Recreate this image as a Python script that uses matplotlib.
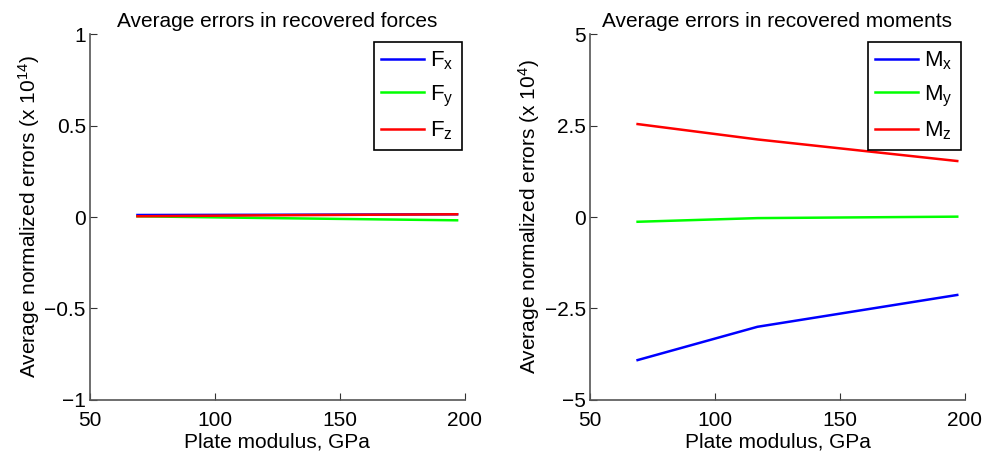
'''
Average errors in recovered forces / moments vs plate modulus
'''

import numpy as np
import matplotlib.pyplot as plt

plt.rcParams['font.family'] = ['Liberation Sans', 'DejaVu Sans']
plt.rcParams['mathtext.fontset'] = 'custom'
plt.rcParams['mathtext.rm'] = 'Liberation Sans'
plt.rcParams['mathtext.it'] = 'Liberation Sans'

# ═══ Data ═════════════════════════════════════════════════════════════

modulus = [69, 117, 197]

# Forces (x 1e14)
f_x = [0.011, 0.012, 0.015]
f_y = [0.004, -0.005, -0.018]
f_z = [0.004, 0.009, 0.015]

# Moments (x 1e4)
m_x = [-3.91, -3.00, -2.13]
m_y = [-0.13, -0.03, 0.01]
m_z = [2.54, 2.12, 1.53]

colors = ['#0000ff', '#00ff00', '#ff0000']

# ═══ Figure ═══════════════════════════════════════════════════════════

fig = plt.figure(figsize=(9.91, 4.54), dpi=100)
ax1 = fig.add_axes([0.0908, 0.119, 0.378, 0.806])
ax2 = fig.add_axes([0.5955, 0.119, 0.378, 0.806])

fs = 15

panels = [
  (ax1, [f_x, f_y, f_z], 'F', 'Average errors in recovered forces',
   r'Average normalized errors (x 10$^{14}$)', (-1, 1), [-1, -0.5, 0, 0.5, 1],
   ['\u22121', '\u22120.5', '0', '0.5', '1'], 0.992),
  (ax2, [m_x, m_y, m_z], 'M', 'Average errors in recovered moments',
   r'Average normalized errors (x 10$^{4}$)', (-5, 5), [-5, -2.5, 0, 2.5, 5],
   ['\u22125', '\u22122.5', '0', '2.5', '5'], 0.989),
]

for ax, series, sym, title, ylab, ylim, yt, ytl, lx in panels:

  for s, c, comp in zip(series, colors, ['x', 'y', 'z']):
    ax.plot(modulus, s, color=c, lw=1.8, label=f'{sym}' + r'$_{\mathregular{%s}}$' % comp)

  ax.set_xlim(50, 200)
  ax.set_ylim(*ylim)
  ax.set_xticks([50, 100, 150, 200])
  ax.set_yticks(yt)
  ax.set_yticklabels(ytl)

  ax.set_title(title, fontsize=fs, pad=5)
  ax.set_xlabel('Plate modulus, GPa', fontsize=fs, labelpad=1.5)
  ax.set_ylabel(ylab, fontsize=fs, labelpad=2)

  ax.spines['top'].set_visible(False)
  ax.spines['right'].set_visible(False)
  for sp in ['left', 'bottom']:
    ax.spines[sp].set_color('#555555')
    ax.spines[sp].set_linewidth(1.2)
  ax.tick_params(direction='in', length=5, labelsize=fs, color='#333333', pad=3)
  ax.tick_params(axis='x', pad=8)

  leg = ax.legend(loc='upper right', bbox_to_anchor=(lx, 0.978), borderaxespad=0,
                  fontsize=fs + 1, fancybox=False, framealpha=1,
                  edgecolor='black', handlelength=1.9, labelspacing=0.5,
                  handletextpad=0.3, borderpad=0.35)
  leg.get_frame().set_linewidth(1.2)

fig.savefig('out.png', dpi=100)
